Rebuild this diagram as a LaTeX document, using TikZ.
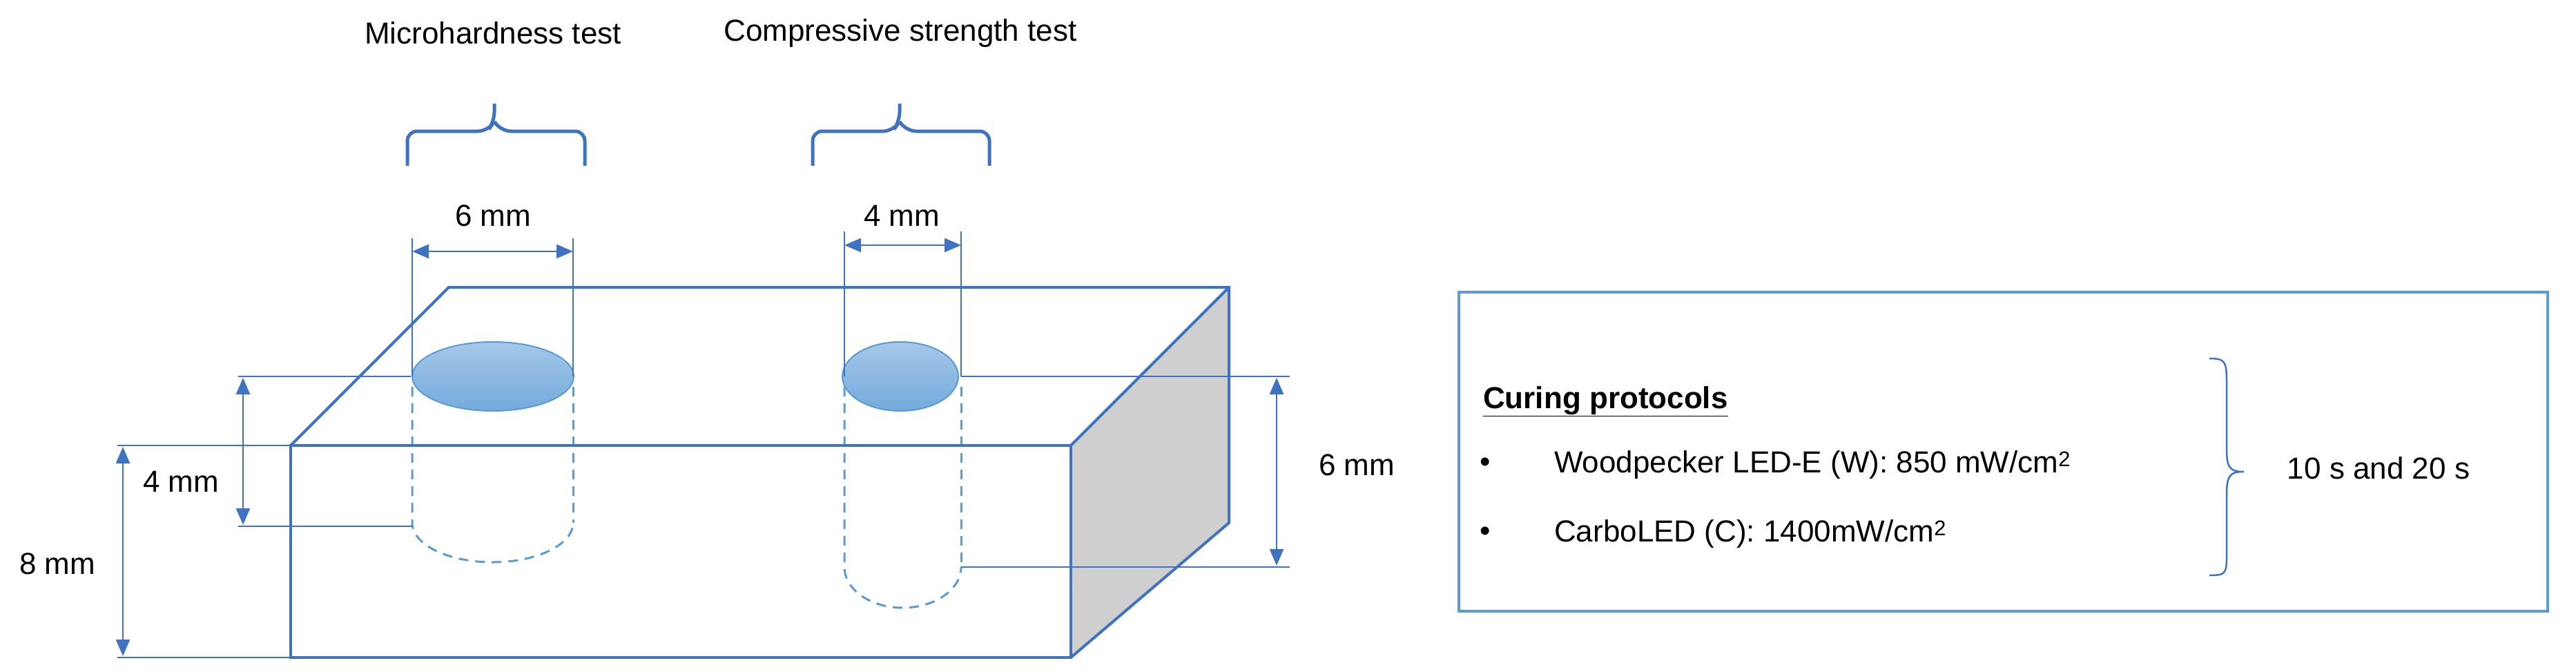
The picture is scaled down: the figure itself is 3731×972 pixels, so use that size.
\documentclass[tikz,border=0pt]{standalone}
\usepackage{fontspec}
\setmainfont{Liberation Sans}
\usetikzlibrary{arrows.meta,decorations.pathreplacing}
\definecolor{bl}{HTML}{3F73C2}
\definecolor{lb}{HTML}{5B9BD5}
\begin{document}
\begin{tikzpicture}[x=1pt,y=-1pt,
  box/.style={draw=bl,line width=4pt,line join=miter},
  thin/.style={draw=bl,line width=2pt},
  dim/.style={draw=bl,line width=2.5pt,{Triangle[length=24pt,width=20pt]}-{Triangle[length=24pt,width=20pt]}},
  dsh/.style={draw=lb,line width=3pt,dash pattern=on 14pt off 10pt},
  lbl/.style={font=\fontsize{44}{52}\selectfont,inner sep=0pt},
  brk/.style={draw=bl,line width=5pt,rounded corners=14pt}]
\useasboundingbox (0,0) rectangle (3731,972);
% titles
\node[lbl] (t1) at (714,48) {Microhardness test};
\node[lbl] (t2) at (1304,48) {Compressive strength test};
% brackets
\draw[brk] (590,240) -- (590,190) -- (706,190) -- (716,176) -- (716,150);
\draw[brk] (847,240) -- (847,190) -- (726,190) -- (716,176);
\draw[brk] (1177,240) -- (1177,190) -- (1293,190) -- (1303,176) -- (1303,150);
\draw[brk] (1433,240) -- (1433,190) -- (1313,190) -- (1303,176);
% gray side
\fill[gray!38] (1551,645) -- (1780,416) -- (1780,757) -- (1551,952) -- cycle;
% cylinders dashed
\draw[dsh] (597,560) -- (597,757) arc[start angle=180,end angle=0,x radius=116.5,y radius=57];
\draw[dsh] (830,560) -- (830,757);
\draw[dsh] (1223,560) -- (1223,821) arc[start angle=180,end angle=0,x radius=84.5,y radius=59];
\draw[dsh] (1392,560) -- (1392,821);
% box
\draw[box] (421,645) rectangle (1551,952);
\draw[box] (421,645) -- (650,416) -- (1780,416) -- (1780,757) -- (1551,952);
\draw[box] (1551,645) -- (1780,416);
% ellipses
\shade[top color=lb!55,bottom color=lb!85,draw=lb,line width=2pt] (714,545) ellipse[x radius=117,y radius=50];
\shade[top color=lb!55,bottom color=lb!85,draw=lb,line width=2pt] (1304,545) ellipse[x radius=84,y radius=50];
% 6mm top dims
\draw[thin] (597,545) -- (597,345); \draw[thin] (830,545) -- (830,345);
\draw[dim] (597,364) -- (830,364);
\node[lbl] (d6) at (714,312) {6 mm};
\draw[thin] (1223,545) -- (1223,335); \draw[thin] (1392,545) -- (1392,335);
\draw[dim] (1223,355) -- (1392,355);
\node[lbl] (d4) at (1306,312) {4 mm};
% 4mm vertical
\draw[thin] (345,545) -- (595,545); \draw[thin] (345,762) -- (597,762);
\draw[dim] (352,547) -- (352,760);
\node[lbl] (v4) at (262,697) {4 mm};
% 8mm
\draw[thin] (170,645) -- (421,645); \draw[thin] (170,952) -- (421,952);
\draw[dim] (178,647) -- (178,950);
\node[lbl] (v8) at (83,816) {8 mm};
% 6mm right
\draw[thin] (1392,545) -- (1868,545); \draw[thin] (1392,821) -- (1868,821);
\draw[dim] (1849,547) -- (1849,819);
\node[lbl] (v6) at (1965,673) {6 mm};
% right box
\draw[draw=lb,line width=3.5pt] (2113,423) rectangle (3690,885);
\node[lbl,anchor=west,font=\fontsize{44}{52}\selectfont\bfseries] (cp) at (2148,581) {\underline{Curing protocols}};
\node[lbl,anchor=west] (b1) at (2143,673) {•};
\node[lbl,anchor=west] (w) at (2251,673) {Woodpecker LED-E (W): 850 mW/cm\textsuperscript{2}};
\node[lbl,anchor=west] (b2) at (2143,773) {•};
\node[lbl,anchor=west] (c) at (2251,773) {CarboLED (C): 1400mW/cm\textsuperscript{2}};
\draw[draw=bl,line width=2.5pt] (3200,519) .. controls (3225,519) and (3225,525) .. (3225,560) -- (3225,650) .. controls (3225,678) and (3230,683) .. (3250,683) .. controls (3230,683) and (3225,688) .. (3225,716) -- (3225,800) .. controls (3225,830) and (3225,833) .. (3200,833);
\node[lbl] (tt) at (3445,678) {10 s and 20 s};
\end{tikzpicture}
\end{document}
